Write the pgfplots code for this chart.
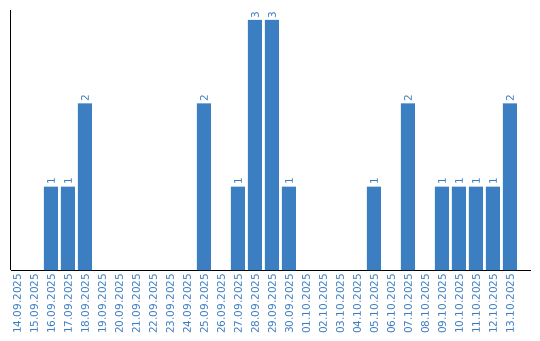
\documentclass[border=0pt]{standalone}
\usepackage{fontspec}
\setmainfont{DejaVu Sans}
\usepackage{pgfplots}
\pgfplotsset{compat=1.18}
\definecolor{barblue}{RGB}{59,126,194}
\definecolor{txtblue}{RGB}{58,123,192}
\begin{document}
\begin{tikzpicture}
\begin{axis}[
  scale only axis,
  width=520.5pt, height=260pt,
  anchor=south west, at={(10.5pt,70pt)},
  axis x line=bottom, axis y line=left,
  axis line style={-, line width=1pt, black},
  xmin=-0.38, xmax=30.24, ymin=0, ymax=3.12,
  ytick=\empty,
  xtick={0,...,29},
  xticklabels={14.09.2025,15.09.2025,16.09.2025,17.09.2025,18.09.2025,19.09.2025,20.09.2025,21.09.2025,22.09.2025,23.09.2025,24.09.2025,25.09.2025,26.09.2025,27.09.2025,28.09.2025,29.09.2025,30.09.2025,01.10.2025,02.10.2025,03.10.2025,04.10.2025,05.10.2025,06.10.2025,07.10.2025,08.10.2025,09.10.2025,10.10.2025,11.10.2025,12.10.2025,13.10.2025},
  x tick label style={rotate=90, anchor=east, font=\fontsize{10.5}{12}\selectfont, text=txtblue, inner sep=3.5pt},
  major tick length=0pt,
  /pgf/number format/assume math mode=true,
  ybar, bar width=14pt, bar shift=0pt,
  nodes near coords,
  every node near coord/.append style={rotate=90, anchor=west, font=\fontsize{10.5}{12}\selectfont, text=txtblue, inner sep=1.5pt},
  clip=false,
]
\addplot[fill=barblue, draw=none] coordinates {
 (2,1) (3,1) (4,2) (11,2) (13,1) (14,3) (15,3) (16,1) (21,1) (23,2) (25,1) (26,1) (27,1) (28,1) (29,2)
};
\end{axis}
\pgfresetboundingbox
\useasboundingbox (0,0) rectangle (540pt,340pt);
\end{tikzpicture}
\end{document}
